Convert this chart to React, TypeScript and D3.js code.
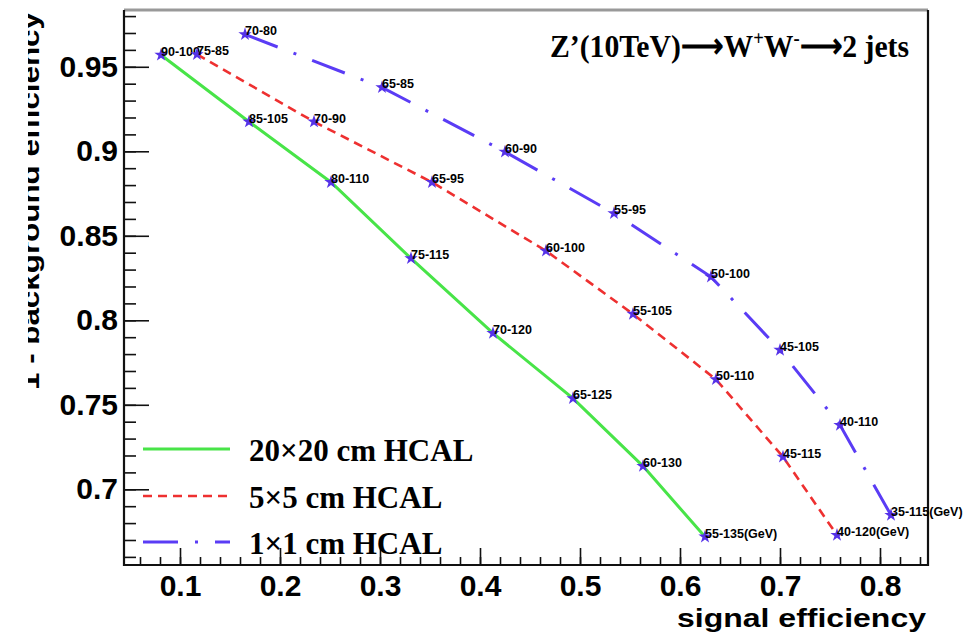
import React, { useRef, useEffect } from "react";
import * as d3 from "d3";

// cut windows (GeV) and efficiencies
const cuts20 = ["90-100", "85-105", "80-110", "75-115", "70-120", "65-125", "60-130", "55-135(GeV)"];
const sig20 = [0.081, 0.169, 0.251, 0.331, 0.413, 0.493, 0.563, 0.625];
const bkg20 = [0.957, 0.9175, 0.8817, 0.8366, 0.7924, 0.7538, 0.7137, 0.6719];

const cuts5 = ["75-85", "70-90", "65-95", "60-100", "55-105", "50-110", "45-115", "40-120(GeV)"];
const sig5 = [0.117, 0.234, 0.352, 0.466, 0.553, 0.636, 0.703, 0.757];
const bkg5 = [0.9573, 0.9175, 0.8817, 0.8411, 0.8037, 0.765, 0.7192, 0.6729];

const cuts1 = ["70-80", "65-85", "60-90", "55-95", "50-100", "45-105", "40-110", "35-115(GeV)"];
const sig1 = [0.165, 0.302, 0.425, 0.534, 0.631, 0.7, 0.76, 0.811];
const bkg1 = [0.9692, 0.9378, 0.8997, 0.8633, 0.8257, 0.7824, 0.738, 0.6847];

const seriesNames = ["20\u00d720 cm HCAL", "5\u00d75 cm HCAL", "1\u00d71 cm HCAL"];

const xTicks = [0.1, 0.2, 0.3, 0.4, 0.5, 0.6, 0.7, 0.8];
const yTicks = [0.7, 0.75, 0.8, 0.85, 0.9, 0.95];

const App = () => {
  const svgRef = useRef<SVGSVGElement>(null);

  useEffect(() => {
    const svg = d3.select(svgRef.current);
    svg.selectAll("*").remove();

    const left = 124, right = 928, top = 10, bottom = 565;
    const x = d3.scaleLinear().domain([0.044, 0.848]).range([left, right]);
    const y = d3.scaleLinear().domain([0.6552, 0.9836]).range([bottom, top]);

    const styles = [
      { color: "#48e448", width: 3, dash: null },
      { color: "#ee3030", width: 2.6, dash: "9,6" },
      { color: "#5a3cf5", width: 3, dash: "35,17,3,17" },
    ];
    const series = [
      { cuts: cuts20, sig: sig20, bkg: bkg20 },
      { cuts: cuts5, sig: sig5, bkg: bkg5 },
      { cuts: cuts1, sig: sig1, bkg: bkg1 },
    ];

    const sans = "'Liberation Sans', Arial, Helvetica, sans-serif";
    const serif = "'Liberation Serif', 'Times New Roman', serif";

    // minor ticks
    svg
      .append("g")
      .attr("transform", `translate(${left},0)`)
      .call(d3.axisLeft(y).tickValues(d3.range(0.66, 0.985, 0.01)).tickSizeInner(-12).tickSizeOuter(0).tickFormat(() => ""))
      .call((g) => g.select(".domain").remove());
    svg
      .append("g")
      .attr("transform", `translate(0,${bottom})`)
      .call(d3.axisBottom(x).tickValues(d3.range(0.06, 0.845, 0.02)).tickSizeInner(-8).tickSizeOuter(0).tickFormat(() => ""))
      .call((g) => g.select(".domain").remove());

    // major ticks + labels
    const yAxis = svg
      .append("g")
      .attr("transform", `translate(${left},0)`)
      .call(d3.axisLeft(y).tickValues(yTicks).tickSizeInner(-25).tickSizeOuter(0).tickPadding(6).tickFormat((d) => String(d)));
    const xAxis = svg
      .append("g")
      .attr("transform", `translate(0,${bottom})`)
      .call(d3.axisBottom(x).tickValues(xTicks).tickSizeInner(-17).tickSizeOuter(0).tickPadding(10).tickFormat((d) => String(d)));
    [yAxis, xAxis].forEach((g) => {
      g.select(".domain").remove();
      g.selectAll("text").attr("font-family", sans).attr("font-weight", "bold").attr("font-size", 30).attr("fill", "#000");
    });
    svg.selectAll(".tick line").attr("stroke", "#111").attr("stroke-width", 1.6);

    // frame
    svg.append("line").attr("x1", left).attr("x2", right).attr("y1", top).attr("y2", top).attr("stroke", "#999").attr("stroke-width", 3);
    svg
      .append("path")
      .attr("d", `M${left},${top}V${bottom}H${right}V${top}`)
      .attr("fill", "none")
      .attr("stroke", "#111")
      .attr("stroke-width", 2.2);

    // curves
    series.forEach((s, i) => {
      const pts = s.sig.map((v, j) => [v, s.bkg[j]] as [number, number]);
      const line = d3
        .line<[number, number]>()
        .x((d) => x(d[0]))
        .y((d) => y(d[1]));
      svg
        .append("path")
        .datum(pts)
        .attr("d", line)
        .attr("fill", "none")
        .attr("stroke", styles[i].color)
        .attr("stroke-width", styles[i].width)
        .attr("stroke-dasharray", styles[i].dash);
    });

    // markers and cut labels
    const star = d3.symbol().type(d3.symbolStar).size(55);
    series.forEach((s) => {
      s.sig.forEach((v, j) => {
        svg
          .append("path")
          .attr("d", star)
          .attr("transform", `translate(${x(v)},${y(s.bkg[j])})`)
          .attr("fill", "#5532e8");
        svg
          .append("text")
          .attr("x", x(v))
          .attr("y", y(s.bkg[j]) + 1)
          .attr("font-family", sans)
          .attr("font-weight", "bold")
          .attr("font-size", 12.5)
          .attr("fill", "#000")
          .text(s.cuts[j]);
      });
    });

    // legend
    const legY = [449, 496, 542];
    seriesNames.forEach((name, i) => {
      svg
        .append("line")
        .attr("x1", 143)
        .attr("x2", 230)
        .attr("y1", legY[i])
        .attr("y2", legY[i])
        .attr("stroke", styles[i].color)
        .attr("stroke-width", styles[i].width)
        .attr("stroke-dasharray", styles[i].dash);
      svg
        .append("text")
        .attr("x", 249)
        .attr("y", legY[i] + 11.5)
        .attr("font-family", serif)
        .attr("font-weight", "bold")
        .attr("font-size", 31)
        .attr("fill", "#000")
        .text(name);
    });

    // title
    const title = svg
      .append("text")
      .attr("x", 550)
      .attr("y", 57)
      .attr("font-family", serif)
      .attr("font-weight", "bold")
      .attr("font-size", 32)
      .attr("fill", "#000")
      .attr("textLength", 359)
      .attr("lengthAdjust", "spacingAndGlyphs");
    title.append("tspan").text("Z\u2019(10TeV)\u27f6W");
    title.append("tspan").attr("dy", -12).attr("font-size", 20).text("+");
    title.append("tspan").attr("dy", 12).text("W");
    title.append("tspan").attr("dy", -12).attr("font-size", 20).text("-");
    title.append("tspan").attr("dy", 12).text("\u27f62 jets");

    // axis titles
    svg
      .append("text")
      .attr("x", 926)
      .attr("y", 627)
      .attr("text-anchor", "end")
      .attr("font-family", sans)
      .attr("font-weight", "bold")
      .attr("font-size", 26)
      .attr("fill", "#000")
      .attr("textLength", 249)
      .attr("lengthAdjust", "spacingAndGlyphs")
      .text("signal efficiency");

    // y title is cut off by the left edge of the original figure
    svg
      .append("clipPath")
      .attr("id", "ytitle-clip")
      .append("rect")
      .attr("x", 28)
      .attr("y", 0)
      .attr("width", 60)
      .attr("height", 637);
    svg
      .append("g")
      .attr("clip-path", "url(#ytitle-clip)")
      .append("text")
      .attr("transform", "translate(39,12) rotate(-90)")
      .attr("text-anchor", "end")
      .attr("font-family", sans)
      .attr("font-weight", "bold")
      .attr("font-size", 26)
      .attr("fill", "#000")
      .attr("textLength", 378)
      .attr("lengthAdjust", "spacingAndGlyphs")
      .text("1 - background efficiency");
  }, []);

  return (
    <svg
      ref={svgRef}
      width={969}
      height={637}
      style={{ position: "absolute", left: 0, top: 0, background: "#fff" }}
    ></svg>
  );
};

export default App;
